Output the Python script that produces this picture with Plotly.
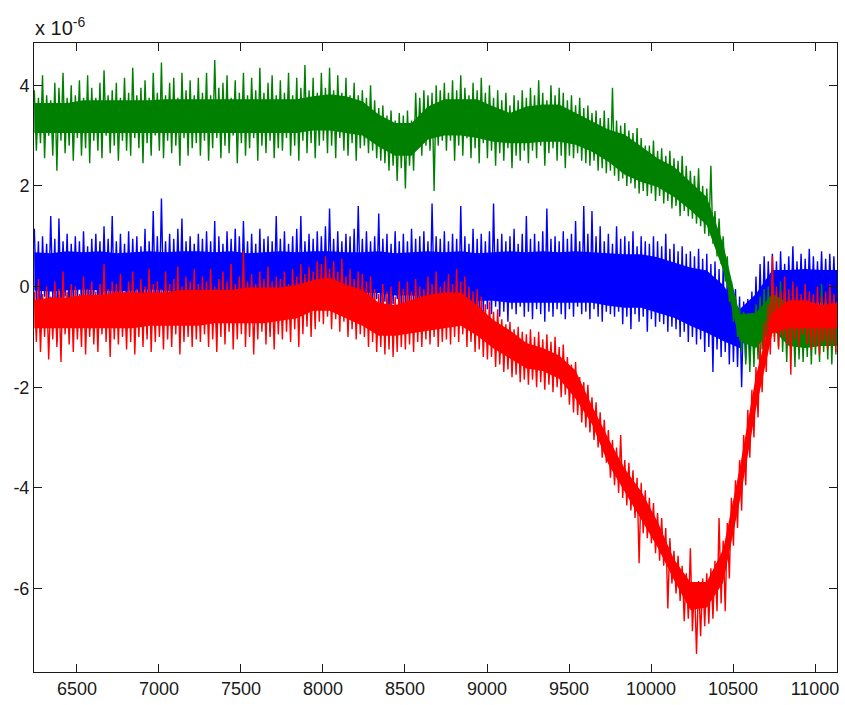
import plotly.graph_objects as go

# ---- data (values in units of 1e-6) ----
# Noisy traces: each sample has an upper and a lower reading (spike tips)
X_START = 6240
X_STEP = 25

GREEN_UP = [
    3.9, 3.75, 4.2, 3.8, 3.7, 4.05, 3.95, 4.25, 3.75, 4.0,
    3.8, 4.1, 3.75, 4.2, 3.95, 3.75, 4.05, 4.3, 3.8, 3.9,
    4.05, 3.75, 4.15, 3.85, 4.35, 3.8, 3.95, 4.1, 3.75, 4.25,
    3.85, 4.45, 3.8, 4.05, 4.15, 3.75, 4.25, 3.9, 4.1, 3.8,
    4.15, 3.85, 4.25, 3.8, 4.5, 3.95, 4.05, 4.2, 3.75, 4.1,
    3.85, 4.25, 3.8, 4.15, 3.9, 4.35, 3.85, 4.05, 4.2, 3.8,
    4.1, 3.85, 4.25, 3.8, 4.15, 3.95, 4.4, 3.9, 4.15, 3.85,
    4.25, 3.95, 4.35, 3.9, 4.2, 3.85, 4.15, 3.8, 4.05, 3.8,
    3.9, 3.75, 4.0, 3.7, 3.55, 3.6, 3.4, 3.5, 3.3, 3.45,
    3.4, 3.5, 3.3, 3.85, 3.75, 3.9, 3.8, 3.85, 4.0, 3.9,
    4.05, 3.85, 4.1, 3.9, 4.2, 3.95, 3.8, 4.05, 3.9, 4.15,
    3.85, 4.0, 3.75, 3.9, 3.7, 3.85, 3.6, 3.8, 3.7, 3.9,
    3.75, 3.95, 3.8, 4.1, 3.85, 3.7, 4.0, 3.8, 3.95, 3.85,
    3.7, 3.8, 3.6, 3.75, 3.55, 3.6, 3.45, 3.5, 3.35, 3.5,
    3.35, 3.95, 3.3, 3.2, 3.25, 3.1, 3.05, 3.15, 2.95, 2.8,
    2.8, 2.9, 2.7, 2.75, 2.6, 2.7, 2.55, 2.5, 2.6, 2.4,
    2.3, 2.2, 2.35, 2.0, 1.95, 2.4, 1.5, 1.35, 1.0, 0.6,
    0.1, -0.2, -0.4, -0.5, -0.6, -0.55, -0.35, -0.2, -0.05, 0.0,
    0.05, -0.1, 0.1, -0.25, -0.15, -0.35, -0.2, -0.4, -0.3, -0.25,
    -0.2, -0.3, 0.05, -0.25, -0.1, -0.2,
]
GREEN_LO = [
    2.7, 2.85, 2.55, 3.0, 2.6, 2.3, 2.9, 2.65, 2.8, 2.5,
    2.95, 2.6, 2.75, 2.45, 2.9, 2.7, 2.55, 3.0, 2.65, 2.8,
    2.5, 2.9, 2.7, 2.6, 2.95, 2.75, 2.45, 2.85, 2.6, 3.0,
    2.7, 2.55, 2.9, 2.65, 2.8, 2.4, 2.95, 2.6, 2.75, 2.85,
    2.6, 2.9, 2.5, 2.75, 2.95, 2.55, 2.8, 2.65, 3.0, 2.45,
    2.85, 2.6, 2.75, 2.95, 2.5, 2.8, 2.65, 2.9, 2.55, 2.75,
    2.7, 2.95, 2.6, 2.8, 2.5, 2.9, 2.65, 2.85, 2.55, 2.8,
    2.9, 2.65, 2.8, 2.55, 2.95, 2.7, 2.6, 2.85, 2.5, 2.75,
    2.8, 2.65, 2.7, 2.55, 2.5, 2.45, 2.3, 2.4, 2.1, 2.35,
    1.95, 2.4, 2.3, 2.75, 2.6, 2.8, 2.7, 1.9, 2.8, 2.9,
    2.7, 2.9, 2.5, 2.8, 2.6, 2.95, 2.55, 2.75, 2.45, 2.85,
    2.55, 2.7, 2.4, 2.65, 2.5, 2.75, 2.35, 2.6, 2.5, 2.7,
    2.45, 2.7, 2.55, 2.8, 2.4, 2.65, 2.75, 2.5, 2.6, 2.35,
    2.6, 2.55, 2.65, 2.5, 2.45, 2.4, 2.5, 2.3, 2.35, 2.25,
    2.3, 2.2, 2.1, 2.15, 2.0, 2.05, 1.95, 1.85, 1.9, 1.8,
    1.85, 1.7, 1.8, 1.65, 1.7, 1.55, 1.6, 1.4, 1.5, 1.4,
    1.35, 1.25, 1.2, 1.05, 1.0, 0.85, 0.6, 0.45, 0.1, -0.3,
    -0.7, -1.0, -1.3, -1.55, -1.7, -1.6, -1.45, -1.25, -1.1, -1.05,
    -1.0, -1.2, -1.3, -1.5, -1.35, -1.6, -1.45, -1.5, -1.4, -1.55,
    -1.35, -1.5, -1.3, -1.45, -1.55, -1.35,
]

BLUE_UP = [
    1.15, 0.9, 1.0, 0.85, 1.4, 0.95, 1.35, 0.9, 1.05, 0.85,
    1.0, 0.9, 1.1, 0.8, 0.95, 1.05, 0.9, 1.2, 0.95, 1.4,
    0.9, 1.05, 0.85, 1.1, 0.95, 1.0, 0.8, 1.15, 0.9, 1.5,
    1.0, 1.75, 0.9, 1.05, 0.95, 1.15, 1.35, 0.9, 1.0, 0.85,
    1.05, 0.95, 1.1, 0.9, 1.3, 1.0, 0.85, 1.1, 0.95, 1.15,
    1.0, 1.3, 0.9, 1.05, 0.85, 1.15, 0.95, 1.0, 0.9, 1.4,
    0.95, 1.1, 0.85, 1.0, 1.15, 1.4, 0.9, 1.05, 0.95, 1.1,
    1.0, 1.2, 1.55, 0.95, 1.1, 0.9, 1.05, 1.0, 1.15, 1.6,
    0.95, 1.1, 0.9, 1.0, 1.45, 0.95, 1.05, 0.85, 1.1, 0.9,
    1.05, 0.9, 1.15, 0.95, 1.0, 1.1, 0.9, 1.65, 1.0, 0.95,
    1.1, 0.9, 1.05, 0.95, 1.6, 1.0, 0.85, 1.15, 0.95, 1.05,
    0.9, 1.1, 1.65, 0.95, 1.05, 0.9, 1.0, 1.15, 0.85, 1.05,
    1.4, 0.95, 1.05, 0.9, 1.1, 1.55, 0.95, 1.0, 0.9, 1.1,
    0.95, 1.05, 1.3, 0.9, 1.6, 1.05, 1.5, 1.0, 1.2, 0.9,
    1.05, 0.85, 1.2, 0.95, 1.0, 0.9, 1.1, 0.8, 1.0, 0.9,
    0.85, 1.0, 0.9, 0.8, 1.05, 0.75, 0.85, 0.7, 0.8, 0.65,
    0.7, 0.6, 0.75, 0.55, 0.65, 0.45, 0.5, 0.35, 0.4, 0.2,
    0.1, -0.05, -0.2, -0.3, -0.25, -0.1, 0.2, 0.45, 0.6, 0.5,
    0.65, 0.5, 0.7, 0.45, 0.6, 0.8, 0.5, 0.65, 0.55, 0.75,
    0.6, 0.5, 0.7, 0.55, 0.65, 0.6,
]
BLUE_LO = [
    -0.3, -0.9, -0.2, -0.4, -0.25, -1.1, -0.35, -0.2, -0.45, -0.3,
    -0.25, -0.4, -0.3, -0.85, -0.2, -0.35, -0.45, -0.3, -0.2, -0.4,
    -0.35, -0.2, -0.5, -0.3, -0.25, -0.4, -0.3, -0.95, -0.25, -0.35,
    -0.4, -0.3, -0.2, -0.45, -0.35, -0.3, -0.5, -0.25, -0.35, -0.4,
    -0.3, -0.45, -0.25, -0.35, -1.0, -0.3, -0.4, -0.2, -0.35, -0.3,
    -0.35, -0.25, -0.4, -0.3, -0.5, -0.35, -0.25, -0.9, -0.3, -0.4,
    -0.3, -0.4, -0.25, -0.35, -0.3, -0.45, -0.2, -0.35, -0.4, -0.3,
    -0.25, -0.35, -0.2, -0.4, -0.3, -0.25, -0.35, -0.45, -0.3, -0.2,
    -0.3, -0.2, -0.35, -0.25, -0.4, -0.3, -0.45, -0.35, -0.25, -0.4,
    -0.35, -0.45, -0.3, -0.5, -0.4, -0.35, -0.55, -0.3, -0.45, -0.4,
    -0.5, -0.35, -0.45, -0.6, -0.4, -0.5, -0.35, -0.55, -0.45, -0.5,
    -0.45, -0.55, -0.4, -0.6, -0.5, -0.7, -0.45, -0.55, -0.4, -0.6,
    -0.5, -0.65, -0.45, -0.55, -0.7, -0.5, -0.6, -0.45, -0.55, -0.65,
    -0.45, -0.6, -0.4, -0.55, -0.5, -0.65, -0.45, -0.6, -0.7, -0.5,
    -0.55, -0.6, -0.5, -0.75, -0.6, -0.85, -0.55, -0.7, -0.6, -0.9,
    -0.65, -0.8, -0.7, -0.75, -0.9, -0.8, -0.85, -1.0, -0.9, -1.1,
    -1.0, -1.15, -1.05, -1.3, -1.2, -1.7, -1.25, -1.4, -1.3, -1.55,
    -1.5, -1.6, -2.0, -1.45, -1.4, -1.3, -1.1, -0.9, -0.8, -0.7,
    -0.6, -0.75, -0.55, -0.7, -0.6, -0.65, -0.5, -0.7, -0.6, -0.55,
    -0.65, -0.5, -0.6, -0.7, -0.55, -0.6,
]

RED_UP = [
    -0.1, 0.15, -0.15, 0.0, -0.2, 0.1, -0.05, 0.3, -0.1, 0.05,
    0.0, -0.15, 0.2, -0.05, 0.1, -0.1, 0.05, 0.45, -0.05, 0.1,
    0.05, 0.25, -0.1, 0.1, 0.3, -0.05, 0.15, 0.0, 0.35, 0.05,
    0.1, -0.05, 0.3, 0.05, 0.15, 0.4, 0.0, 0.2, 0.1, 0.35,
    0.05, 0.2, 0.1, 0.35, 0.0, 0.15, 0.3, 0.1, 0.45, 0.05,
    0.2, 0.7, 0.1, 0.25, 0.05, 0.3, 0.15, 0.4, 0.1, 0.2,
    0.15, 0.3, 0.05, 0.35, 0.2, 0.45, 0.25, 0.4, 0.3, 0.5,
    0.45, 0.6, 0.35, 0.5, 0.3, 0.55, 0.2, 0.35, 0.15, 0.3,
    0.25, 0.1, 0.2, -0.05, -0.15, 0.05, -0.1, 0.0, -0.2, 0.1,
    -0.05, 0.1, -0.1, 0.15, 0.0, -0.05, 0.2, 0.05, 0.3, 0.0,
    0.1, 0.25, 0.05, 0.35, 0.1, 0.2, 0.0, -0.1, -0.05, -0.2,
    -0.35, -0.3, -0.5, -0.45, -0.65, -0.75, -0.7, -0.85, -0.8, -0.9,
    -0.95, -0.85, -1.0, -0.9, -1.05, -0.95, -1.1, -1.0, -1.2, -1.15,
    -1.4, -1.55, -1.5, -1.8, -1.9, -1.95, -2.2, -2.3, -2.5, -2.65,
    -2.85, -3.05, -3.2, -2.95, -3.45, -3.5, -3.65, -3.8, -3.9, -4.05,
    -4.2, -4.3, -4.5, -4.6, -4.8, -5.0, -5.25, -5.35, -5.55, -5.7,
    -5.2, -5.9, -5.85, -5.8, -5.7, -5.6, -5.45, -4.6, -5.05, -4.7,
    -4.2, -3.85, -3.45, -2.95, -2.45, -2.05, -1.6, -1.1, -0.7, -0.35,
    0.6, 0.0, -0.1, 0.2, -0.05, 0.1, 0.0, -0.15, 0.05, -0.1,
    -0.15, 0.0, -0.2, -0.1, 0.05, -0.15,
]
RED_LO = [
    -1.1, -1.3, -1.0, -1.45, -1.05, -1.2, -1.5, -0.95, -1.15, -1.3,
    -1.05, -1.2, -1.35, -1.0, -1.15, -1.3, -0.95, -1.1, -1.4, -1.05,
    -1.15, -1.0, -1.25, -1.1, -1.35, -1.0, -1.2, -1.05, -1.3, -1.1,
    -1.0, -1.25, -1.05, -1.2, -0.95, -1.35, -1.1, -1.0, -1.2, -1.05,
    -1.1, -0.95, -1.2, -1.05, -1.3, -1.0, -1.15, -0.9, -1.25, -1.05,
    -0.95, -1.2, -1.0, -1.35, -1.05, -0.9, -1.15, -1.0, -1.25, -0.95,
    -1.05, -0.9, -1.1, -0.85, -1.2, -0.95, -0.8, -1.0, -0.85, -0.7,
    -0.75, -0.6, -0.85, -0.65, -0.9, -0.7, -1.0, -0.85, -1.05, -0.95,
    -1.0, -1.2, -1.1, -1.3, -1.2, -1.35, -1.25, -1.4, -1.3, -1.2,
    -1.25, -1.15, -1.3, -1.1, -1.2, -1.05, -1.15, -1.0, -1.2, -1.1,
    -1.05, -1.15, -1.0, -1.1, -0.95, -1.2, -1.1, -1.3, -1.25, -1.4,
    -1.45, -1.4, -1.6, -1.55, -1.7, -1.65, -1.8, -1.75, -1.9, -1.85,
    -1.95, -1.85, -2.0, -1.9, -2.05, -1.95, -2.1, -2.0, -2.2, -2.15,
    -2.35, -2.5, -2.55, -2.7, -2.8, -2.9, -3.05, -3.2, -3.4, -3.5,
    -3.8, -3.95, -4.1, -4.2, -4.35, -4.45, -4.6, -5.5, -4.9, -5.0,
    -5.1, -5.3, -5.45, -5.55, -6.4, -5.9, -6.1, -6.25, -6.65, -6.6,
    -6.85, -7.3, -6.95, -6.75, -6.7, -6.6, -6.45, -6.3, -6.45, -5.8,
    -5.15, -4.8, -4.45, -3.95, -3.4, -3.0, -2.6, -2.1, -1.7, -1.35,
    -1.1, -1.25, -1.0, -1.15, -1.75, -1.05, -1.2, -0.95, -1.15, -1.25,
    -1.2, -1.35, -1.1, -1.25, -1.15, -1.3,
]

# Solid core of each noisy band (top / bottom), read every 100 units
CORE_X_START = 6240
CORE_STEP = 100

GREEN_CORE_TOP = [
    3.65, 3.65, 3.65, 3.7, 3.7, 3.7, 3.7, 3.7, 3.72, 3.72,
    3.72, 3.72, 3.72, 3.72, 3.72, 3.72, 3.72, 3.78, 3.82, 3.78,
    3.68, 3.42, 3.25, 3.25, 3.58, 3.72, 3.72, 3.72, 3.58, 3.45,
    3.58, 3.62, 3.62, 3.45, 3.28, 3.12, 3.02, 2.78, 2.55, 2.38,
    2.08, 1.78, 0.85, -0.55, -0.52, -0.15, -0.32, -0.45, -0.38, -0.38,
]
GREEN_CORE_BOT = [
    3.05, 3.05, 3.05, 3.05, 3.05, 3.05, 3.05, 3.05, 3.05, 3.05,
    3.05, 3.05, 3.05, 3.05, 3.05, 3.05, 3.05, 3.1, 3.1, 3.05,
    3.0, 2.78, 2.6, 2.6, 2.92, 3.0, 3.0, 2.95, 2.88, 2.85,
    2.85, 2.88, 2.88, 2.82, 2.68, 2.48, 2.22, 2.08, 1.98, 1.78,
    1.52, 1.22, 0.32, -1.08, -1.22, -0.85, -1.18, -1.22, -1.18, -1.18,
]
BLUE_CORE_TOP = [
    0.68, 0.66, 0.7, 0.68, 0.7, 0.66, 0.68, 0.7, 0.68, 0.7,
    0.7, 0.68, 0.7, 0.66, 0.68, 0.7, 0.68, 0.7, 0.7, 0.68,
    0.68, 0.7, 0.66, 0.68, 0.7, 0.68, 0.7, 0.66, 0.68, 0.7,
    0.68, 0.7, 0.68, 0.7, 0.68, 0.66, 0.64, 0.64, 0.58, 0.48,
    0.38, 0.32, 0.03, -0.45, -0.15, 0.33, 0.33, 0.35, 0.33, 0.33,
]
BLUE_CORE_BOT = [
    -0.08, -0.1, -0.08, -0.06, -0.08, -0.1, -0.08, -0.06, -0.08, -0.1,
    -0.08, -0.06, -0.08, -0.1, -0.08, -0.08, -0.06, -0.08, -0.1, -0.08,
    -0.13, -0.13, -0.18, -0.18, -0.22, -0.22, -0.28, -0.28, -0.28, -0.32,
    -0.32, -0.32, -0.32, -0.32, -0.32, -0.38, -0.42, -0.42, -0.52, -0.62,
    -0.78, -0.92, -1.08, -1.22, -0.82, -0.38, -0.32, -0.32, -0.32, -0.32,
]
RED_CORE_TOP = [
    -0.27, -0.22, -0.22, -0.17, -0.17, -0.12, -0.12, -0.12, -0.12, -0.07,
    -0.07, -0.07, -0.07, -0.02, -0.02, -0.02, 0.03, 0.13, 0.18, 0.03,
    -0.07, -0.32, -0.37, -0.27, -0.17, -0.12, -0.12, -0.37, -0.67, -0.87,
    -1.12, -1.22, -1.37, -1.67, -2.37, -3.02, -3.62, -4.07, -4.67, -5.42,
    -5.87, -5.87, -5.22, -3.62, -1.77, -0.52, -0.27, -0.27, -0.37, -0.32,
]
RED_CORE_BOT = [
    -0.83, -0.83, -0.83, -0.83, -0.83, -0.83, -0.83, -0.78, -0.78, -0.78,
    -0.78, -0.73, -0.73, -0.73, -0.73, -0.68, -0.63, -0.48, -0.48, -0.63,
    -0.78, -0.98, -0.98, -0.93, -0.88, -0.83, -0.78, -0.98, -1.23, -1.43,
    -1.63, -1.68, -1.83, -2.23, -2.73, -3.53, -4.08, -4.63, -5.18, -5.83,
    -6.43, -6.38, -5.88, -4.28, -2.43, -0.93, -0.83, -0.83, -0.83, -0.83,
]

X_TICKS = [6500, 7000, 7500, 8000, 8500, 9000, 9500, 10000, 10500, 11000]
Y_TICKS = [-6, -4, -2, 0, 2, 4]
Y_TICK_TEXT = ["-6", "-4", "-2", "0", "2", "4"]
X_RANGE = [6238, 11134]
Y_RANGE = [-7.66, 4.84]
EXPONENT_LABEL = "x 10<sup>-6</sup>"

SERIES = [
    ("blue", BLUE_UP, BLUE_LO, BLUE_CORE_TOP, BLUE_CORE_BOT, "#0000FF"),
    ("green", GREEN_UP, GREEN_LO, GREEN_CORE_TOP, GREEN_CORE_BOT, "#008000"),
    ("red", RED_UP, RED_LO, RED_CORE_TOP, RED_CORE_BOT, "#FF0000"),
]


def build_trace(up, lo):
    xs, ys = [], []
    for i, (u, l) in enumerate(zip(up, lo)):
        x = X_START + X_STEP * i
        xs.extend([x, x + X_STEP / 2])
        ys.extend([u, l])
    return xs, ys


def build_core(top, bot):
    cx = [CORE_X_START + CORE_STEP * j for j in range(min(len(top), len(bot)))]
    return cx + cx[::-1], list(top[:len(cx)]) + list(bot[:len(cx)])[::-1]


fig = go.Figure()
for name, up, lo, ctop, cbot, color in SERIES:
    px, py = build_core(ctop, cbot)
    fig.add_trace(go.Scatter(x=px, y=py, mode="lines", fill="toself",
                             fillcolor=color, line=dict(color=color, width=0),
                             hoverinfo="skip", name=name + " core"))
    xs, ys = build_trace(up, lo)
    fig.add_trace(go.Scatter(x=xs, y=ys, mode="lines", name=name,
                             line=dict(color=color, width=1.4, simplify=False),
                             hoverinfo="skip"))

axis_common = dict(
    showline=True, linecolor="#1a1a1a", linewidth=1, mirror="ticks",
    ticks="inside", ticklen=8, tickcolor="#1a1a1a", tickwidth=1,
    showgrid=False, zeroline=False,
)
fig.update_xaxes(range=X_RANGE, tickmode="array", tickvals=X_TICKS,
                 ticktext=[str(v) for v in X_TICKS], **axis_common)
fig.update_yaxes(range=Y_RANGE, tickmode="array", tickvals=Y_TICKS,
                 ticktext=Y_TICK_TEXT, **axis_common)

fig.update_layout(
    width=845, height=705,
    margin=dict(l=34, r=6, t=43, b=25),
    plot_bgcolor="white", paper_bgcolor="white",
    showlegend=False,
    font=dict(family="Liberation Sans, Arial, sans-serif", size=18, color="#1a1a1a"),
    annotations=[dict(
        text=EXPONENT_LABEL, xref="paper", yref="paper",
        x=-0.001, y=1.026, xanchor="left", yanchor="middle",
        showarrow=False, font=dict(size=20, color="#1a1a1a"),
    )],
)

fig.write_html("out.html")
